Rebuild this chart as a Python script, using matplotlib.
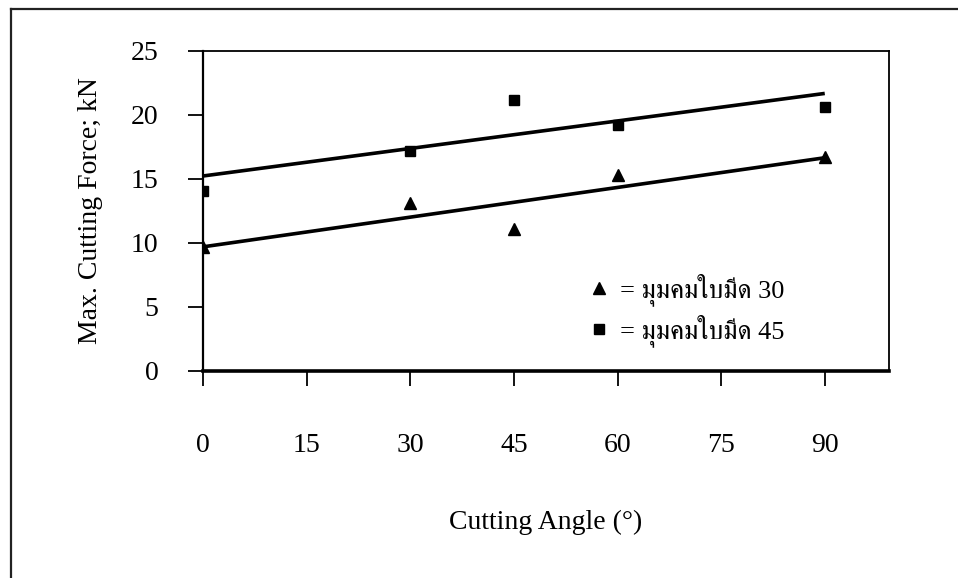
import numpy as np
import matplotlib
matplotlib.use("Agg")
import matplotlib.pyplot as plt
from matplotlib.lines import Line2D

# Maximum cutting force (kN) against cutting angle, for two blade edge angles
angles = [0, 30, 45, 60, 90]
force_edge30 = [9.7, 13.1, 11.1, 15.3, 16.7]
force_edge45 = [14.1, 17.2, 21.2, 19.2, 20.6]

label_edge30 = "= มุมคมใบมีด 30"
label_edge45 = "= มุมคมใบมีด 45"

x_ticks = [0, 15, 30, 45, 60, 75, 90]
y_ticks = [0, 5, 10, 15, 20, 25]

serif = ["Liberation Serif", "FreeSerif"]
plt.rcParams["font.family"] = serif
plt.rcParams["font.size"] = 20

W, H = 958, 578
fig = plt.figure(figsize=(W / 100, H / 100), dpi=100)
fig.patch.set_facecolor("white")

# outer frame (left and top edges of the chart object)
fx, fy = 10.5 / W, 1 - 9 / H
fig.add_artist(Line2D([fx, fx], [0, fy], transform=fig.transFigure, color="#222222", lw=1.6))
fig.add_artist(Line2D([fx, 1], [fy, fy], transform=fig.transFigure, color="#222222", lw=1.6))

ax = fig.add_axes([203 / W, 1 - 371 / H, (889 - 203) / W, (371 - 51) / H])
ax.set_xlim(0, 99.3)
ax.set_ylim(0, 25)

# data points
ax.plot(angles, force_edge30, linestyle="none", marker="^", ms=8, color="black",
        label=label_edge30, zorder=4)
ax.plot(angles, force_edge45, linestyle="none", marker="s", ms=7, color="black",
        label=label_edge45, zorder=4)

# linear trend lines
xs = np.array([angles[0], angles[-1]], dtype=float)
for ys in (force_edge30, force_edge45):
    k, b = np.polyfit(angles, ys, 1)
    ax.plot(xs, k * xs + b, color="black", lw=2.6, solid_capstyle="butt", zorder=3)

# axes styling
ax.spines["left"].set_linewidth(1.6)
ax.spines["bottom"].set_linewidth(2.6)
ax.spines["top"].set_linewidth(1.3)
ax.spines["right"].set_linewidth(1.3)
for s in ax.spines.values():
    s.set_color("black")

ax.set_xticks(x_ticks)
ax.set_yticks(y_ticks)
ax.tick_params(axis="y", direction="out", length=11, width=1.3, pad=21, labelsize=20)
ax.tick_params(axis="x", direction="out", length=11, width=1.3, pad=33.5, labelsize=20)

ax.set_xlabel("Cutting Angle (°)", fontsize=20)
ax.xaxis.set_label_coords(0.5, -0.434)
ax.set_ylabel("Max. Cutting Force; kN", fontsize=20)
ax.yaxis.set_label_coords(-0.146, 0.5)

leg = ax.legend(loc="upper left", bbox_to_anchor=(0.561, 0.305), frameon=False,
                handlelength=0.85, handletextpad=0.35, labelspacing=0.3,
                borderpad=0, borderaxespad=0, numpoints=1,
                prop={"family": serif, "size": 19})

fig.savefig("out.png", dpi=100, facecolor="white")
